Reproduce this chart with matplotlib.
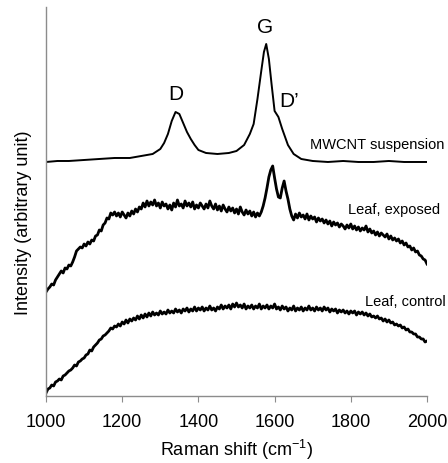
import numpy as np
import matplotlib
matplotlib.use("Agg")
import matplotlib.pyplot as plt

plt.rcParams["font.family"] = ["Liberation Sans", "DejaVu Sans"]

# MWCNT suspension (smooth, read at irregular spacing)
mwcnt_shift = [1000, 1030, 1060, 1100, 1140, 1180, 1220, 1250, 1280, 1300, 1310,
               1320, 1330, 1340, 1350, 1360, 1370, 1380, 1390, 1400, 1420, 1450,
               1480, 1500, 1520, 1535, 1545, 1555, 1565, 1572, 1578, 1585, 1592,
               1600, 1610, 1620, 1635, 1650, 1670, 1700, 1740, 1780, 1820, 1860,
               1900, 1940, 1970, 2000]
mwcnt_int = [234, 235, 235, 236, 237, 238, 238, 240, 242, 247, 253,
             262, 275, 284, 282, 273, 264, 257, 251, 246, 243, 242,
             243, 245, 251, 262, 272, 297, 325, 344, 352, 337, 312,
             285, 279, 267, 251, 242, 237, 235, 234, 235, 234, 234,
             235, 234, 234, 234]

# leaf spectra, read every 5 cm-1 from 1000 to 2000
leaf_shift = np.arange(1000, 2001, 5)
exposed_int = [104, 107, 109, 112, 111, 116, 119, 122, 125, 123,
               128, 127, 131, 130, 134, 139, 145, 147, 149, 148,
               152, 150, 154, 152, 156, 155, 160, 161, 166, 165,
               171, 173, 178, 177, 183, 181, 184, 180, 183, 179,
               184, 181, 178, 183, 180, 185, 182, 187, 184, 189,
               187, 193, 189, 195, 190, 194, 191, 196, 190, 193,
               188, 194, 190, 192, 187, 191, 186, 193, 189, 196,
               190, 192, 188, 195, 190, 193, 189, 194, 187, 191,
               188, 193, 190, 187, 192, 188, 195, 190, 187, 192,
               186, 190, 185, 191, 187, 184, 189, 185, 188, 183,
               187, 182, 189, 184, 181, 186, 182, 185, 180, 184,
               179, 183, 180, 184, 190, 198, 208, 219, 226, 230,
               218, 207, 199, 198, 208, 215, 205, 197, 187, 180,
               176, 182, 178, 183, 179, 181, 177, 182, 176, 180,
               177, 179, 174, 178, 175, 177, 173, 176, 172, 175,
               170, 174, 171, 173, 169, 172, 170, 167, 171, 168,
               172, 167, 170, 166, 169, 165, 168, 166, 170, 164,
               167, 163, 165, 161, 164, 160, 163, 161, 159, 162,
               157, 160, 156, 158, 155, 157, 153, 155, 151, 153,
               149, 150, 146, 148, 144, 145, 141, 140, 137, 136,
               132]
control_int = [3, 7, 8, 11, 10, 14, 15, 17, 16, 20,
               21, 23, 25, 26, 28, 31, 30, 34, 35, 37,
               38, 41, 42, 46, 45, 49, 51, 53, 56, 57,
               60, 61, 63, 65, 68, 67, 70, 69, 72, 70,
               74, 72, 76, 73, 77, 75, 78, 76, 80, 77,
               81, 78, 82, 79, 83, 80, 84, 81, 83, 81,
               85, 82, 84, 82, 86, 83, 85, 83, 87, 84,
               86, 83, 87, 85, 88, 84, 87, 85, 89, 85,
               88, 86, 89, 85, 88, 86, 90, 86, 88, 85,
               89, 87, 91, 87, 90, 88, 91, 87, 92, 89,
               93, 89, 91, 88, 92, 87, 90, 88, 91, 87,
               90, 88, 92, 87, 90, 88, 91, 87, 90, 88,
               92, 87, 89, 86, 90, 87, 89, 85, 88, 86,
               90, 85, 88, 86, 89, 85, 88, 86, 90, 86,
               88, 85, 89, 86, 88, 85, 89, 86, 88, 84,
               87, 85, 87, 83, 86, 84, 86, 83, 85, 82,
               85, 83, 85, 81, 84, 82, 84, 81, 83, 80,
               82, 79, 80, 78, 80, 77, 78, 75, 77, 74,
               76, 73, 74, 71, 72, 70, 71, 68, 69, 66,
               67, 64, 64, 62, 62, 59, 59, 57, 57, 54,
               55]

tick_pos = [1000, 1200, 1400, 1600, 1800, 2000]

fig = plt.figure(figsize=(4.48, 4.64), dpi=100)
ax = fig.add_axes([0.1027, 0.1444, 0.8504, 0.8384])

ax.plot(mwcnt_shift, mwcnt_int, color="black", lw=1.4)
ax.plot(leaf_shift, exposed_int, color="black", lw=2.0)
ax.plot(leaf_shift, control_int, color="black", lw=2.0)

ax.set_xlim(1000, 2000)
ax.set_ylim(0, 389)
ax.set_xticks(tick_pos)
ax.set_yticks([])
for s in ["top", "right"]:
    ax.spines[s].set_visible(False)
for s in ["left", "bottom"]:
    ax.spines[s].set_color("#8c8c8c")
    ax.spines[s].set_linewidth(1.0)
ax.tick_params(axis="x", direction="out", length=4, color="#8c8c8c",
               labelsize=13, pad=8)

ax.set_xlabel(r"Raman shift (cm$^{\mathregular{-1}}$)", fontsize=13, labelpad=5)
ax.set_ylabel("Intensity (arbitrary unit)", fontsize=13)
ax.yaxis.set_label_coords(-0.037, 0.447)

# peak labels
ax.text(1575, 369, "G", fontsize=15, ha="center", va="center")
ax.text(1340, 302, "D", fontsize=15, ha="center", va="center")
ax.text(1612, 295, "D\u2019", fontsize=15, ha="left", va="center")

# curve labels
ax.text(1693, 252, "MWCNT suspension", fontsize=10.5, ha="left", va="center", clip_on=False)
ax.text(1793, 187, "Leaf, exposed", fontsize=10.5, ha="left", va="center", clip_on=False)
ax.text(1837, 95, "Leaf, control", fontsize=10.5, ha="left", va="center", clip_on=False)

fig.savefig("out.png", dpi=100)
